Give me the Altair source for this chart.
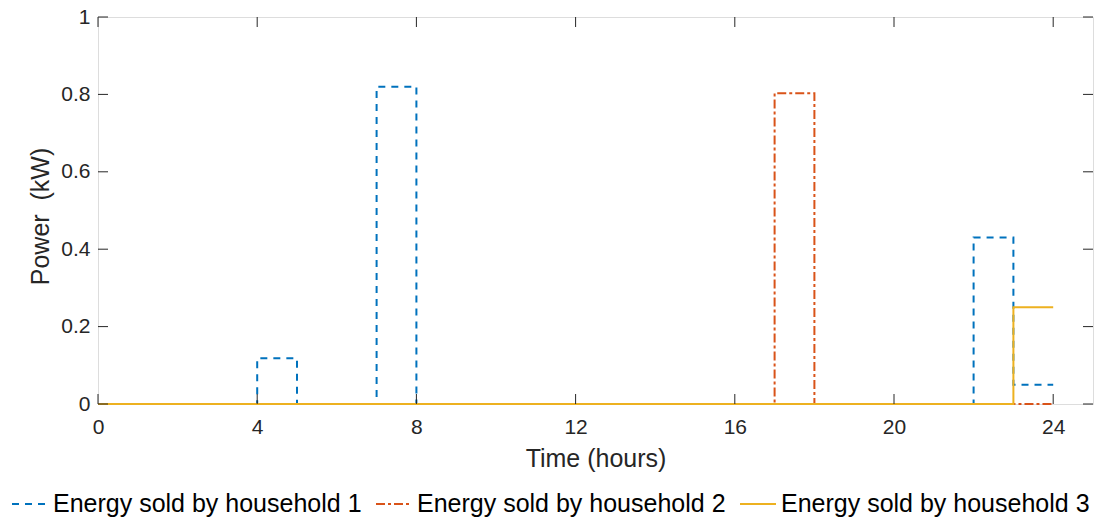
import altair as alt
import pandas as pd

# Hourly power sold by each household (kW), one value per hour start; last value repeated to close the step at 24 h
hours = list(range(25))
household_1 = [0, 0, 0, 0, 0.118, 0, 0, 0.82, 0, 0, 0, 0, 0, 0, 0, 0, 0, 0, 0, 0, 0, 0, 0.43, 0.05, 0.05]
household_2 = [0, 0, 0, 0, 0, 0, 0, 0, 0, 0, 0, 0, 0, 0, 0, 0, 0, 0.803, 0, 0, 0, 0, 0, 0, 0]
household_3 = [0, 0, 0, 0, 0, 0, 0, 0, 0, 0, 0, 0, 0, 0, 0, 0, 0, 0, 0, 0, 0, 0, 0, 0.25, 0.25]

series_names = ["Energy sold by household 1", "Energy sold by household 2", "Energy sold by household 3"]
series_values = [household_1, household_2, household_3]
series_colors = ["#0072BD", "#D95319", "#EDB120"]
series_dashes = [[7, 6], [9, 3, 3, 3], [1, 0]]

x_ticks = [0, 4, 8, 12, 16, 20, 24]
y_ticks = [0, 0.2, 0.4, 0.6, 0.8, 1]

W, H = 995, 387
FONT = "Liberation Sans"
AX = "#262626"

rows = []
for name, vals in zip(series_names, series_values):
    for h, v in zip(hours, vals):
        rows.append({"hour": h, "power": v, "series": name})
df = pd.DataFrame(rows)

x_scale = alt.Scale(domain=[0, 25], nice=False, zero=False)
y_scale = alt.Scale(domain=[0, 1], nice=False)

legend = alt.Legend(title=None, orient="none", direction="horizontal", legendX=-87, legendY=468,
                    symbolType="stroke", symbolSize=1296, symbolStrokeWidth=2,
                    labelFont=FONT, labelFontSize=25, labelColor="#000000",
                    labelLimit=500, labelOffset=4, columnPadding=10)
color = alt.Color("series:N", scale=alt.Scale(domain=series_names, range=series_colors), legend=legend)
dash = alt.StrokeDash("series:N", scale=alt.Scale(domain=series_names, range=series_dashes), legend=legend)

x_axis = alt.Axis(values=x_ticks, ticks=False, domain=False, grid=False, labelFontSize=21,
                  labelFont=FONT, labelColor=AX, labelPadding=12, labelFlush=False,
                  title="Time (hours)", titleFont=FONT, titleFontSize=25,
                  titleFontWeight="normal", titleColor=AX, titlePadding=9)
y_axis = alt.Axis(values=y_ticks, ticks=False, domain=False, grid=False, labelFontSize=21,
                  labelFont=FONT, labelColor=AX, labelPadding=8, labelFlush=False, format="~g",
                  title="Power\u00a0\u00a0(kW)", titleFont=FONT, titleFontSize=25,
                  titleFontWeight="normal", titleColor=AX, titleX=-58, titleY=199,
                  titleAngle=-90, titleAlign="center", titleBaseline="middle")

X = lambda f: alt.X(f, scale=x_scale, axis=x_axis)
Y = lambda f: alt.Y(f, scale=y_scale, axis=y_axis)

base = alt.Chart(df)
layers = []
for name in series_names:
    layers.append(
        base.transform_filter(alt.datum.series == name)
        .mark_line(interpolate="step-after", strokeWidth=2)
        .encode(x=X("hour:Q"), y=Y("power:Q"), color=color, strokeDash=dash)
    )

# inward tick marks on all four sides of the box
xt = pd.DataFrame({"hour": x_ticks})
yt = pd.DataFrame({"power": y_ticks})
tick_style = dict(color=AX, strokeWidth=1)
bottom_ticks = alt.Chart(xt).mark_rule(**tick_style).encode(
    x=X("hour:Q"), y=alt.value(H), y2=alt.value(H - 10))
top_ticks = alt.Chart(xt).mark_rule(**tick_style).encode(
    x=X("hour:Q"), y=alt.value(0), y2=alt.value(10))
left_ticks = alt.Chart(yt).mark_rule(**tick_style).encode(
    y=Y("power:Q"), x=alt.value(0), x2=alt.value(10))
right_ticks = alt.Chart(yt).mark_rule(**tick_style).encode(
    y=Y("power:Q"), x=alt.value(W - 10), x2=alt.value(W))

chart = (
    alt.layer(*layers, bottom_ticks, top_ticks, left_ticks, right_ticks)
    .properties(width=W, height=H, autosize=alt.AutoSizeParams(type="none"),
                padding={"left": 98, "top": 17, "right": 6, "bottom": 118})
    .configure_view(stroke=AX, strokeWidth=1)
    .configure(background="white")
)

chart.save("out.html", embed_options={"renderer": "svg", "actions": False})
